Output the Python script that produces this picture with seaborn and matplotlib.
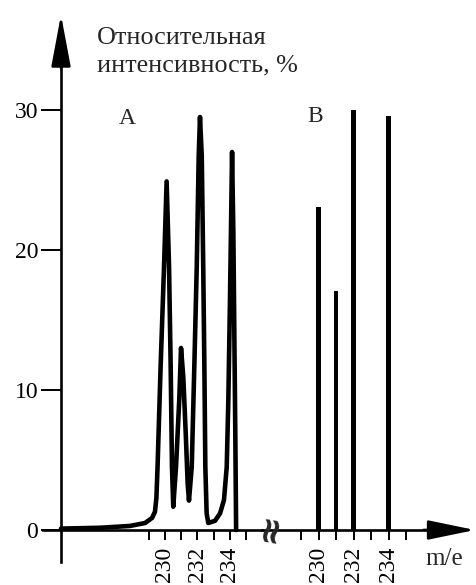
import matplotlib
matplotlib.use("Agg")
import matplotlib.pyplot as plt
import seaborn as sns

# spectrum A: points
curve_me = [223.58, 225.99, 227.84, 228.77, 229.20, 229.38, 229.47, 229.54,
            229.73, 229.94, 230.10, 230.25, 230.35, 230.43, 230.51, 230.68,
            230.88, 230.99, 231.13, 231.28, 231.40, 231.48, 231.65, 231.81,
            231.96, 232.08, 232.16, 232.27, 232.36, 232.43, 232.49, 232.57,
            232.67, 233.09, 233.40, 233.64, 233.81, 233.91, 234.01, 234.07,
            234.14, 234.22, 234.28, 234.34, 234.39]
curve_int = [0.10, 0.16, 0.29, 0.50, 0.86, 1.30, 2.30, 4.5,
             11.7, 18.8, 24.9, 18.8, 11.7, 4.5, 1.66, 4.5,
             9.3, 13.0, 10.9, 6.9, 3.3, 2.1, 4.5, 11.7,
             18.8, 26.7, 29.5, 26.7, 18.8, 11.7, 4.5, 1.2,
             0.5, 0.66, 1.19, 2.14, 4.5, 9.3, 16.4, 21.2,
             27.0, 21.2, 14.0, 6.9, 0.0]

# spectrum B: line spectrum
bar_me = [230, 231, 232, 234]
bar_int = [23.1, 17.1, 30.0, 29.6]

tick_me = [229, 230, 231, 232, 233, 234, 235]
label_me = [230, 232, 234]
y_ticks = [0, 10, 20, 30]

sns.set_style("white")
plt.rcParams['font.family'] = ['Liberation Serif', 'DejaVu Serif']

W, H = 476, 585
fig = plt.figure(figsize=(W / 100, H / 100), dpi=100)
ax_a = fig.add_axes([61 / W, 0, 201 / W, 1])
ax_b = fig.add_axes([278 / W, 0, 198 / W, 1], sharey=ax_a)

sns.lineplot(x=curve_me, y=curve_int, sort=False, estimator=None, ax=ax_a,
             color='black', lw=3.3, solid_joinstyle='round', clip_on=False)
sns.barplot(x=bar_me, y=bar_int, native_scale=True, ax=ax_b, color='black',
            saturation=1, width=0.23, linewidth=0)

ax_a.set_ylim(-55 / 14, 530 / 14)
ax_a.set_xlim(230 - 104 / 16.2, 230 + 97 / 16.2)
ax_b.set_xlim(230 - 40.5 / 17.5, 239.0)

axis_lw = 1.9
for ax in (ax_a, ax_b):
    ax.patch.set_visible(False)
    ax.set_xlabel('')
    ax.set_ylabel('')
    for s in ('top', 'right'):
        ax.spines[s].set_visible(False)
    ax.spines['bottom'].set_position(('data', 0))
    ax.spines['bottom'].set_linewidth(axis_lw)
    ax.spines['bottom'].set_color('black')
    ax.set_xticks(tick_me)
    ax.set_xticklabels([str(t) if t in label_me else '' for t in tick_me])
    ax.tick_params(axis='x', bottom=True, direction='out', length=7.2, width=1.4,
                   pad=5, labelsize=17, labelrotation=90, colors='black')

ax_a.spines['left'].set_linewidth(axis_lw)
ax_a.spines['left'].set_color('black')
ax_a.spines['left'].set_bounds(-2.3, 34)
ax_a.spines['bottom'].set_bounds(222.47, 235.99)
ax_b.spines['left'].set_visible(False)
ax_b.spines['bottom'].set_bounds(226.77, 237.5)

ax_a.set_yticks(y_ticks)
ax_a.set_yticklabels([str(t) for t in y_ticks])
ax_a.tick_params(axis='y', left=True, direction='out', length=14.4, width=1.4,
                 pad=2, labelsize=17, colors='black')
ax_b.tick_params(axis='y', left=False, labelleft=False)

arrow = dict(arrowstyle='-|>,head_length=3.2,head_width=0.6', mutation_scale=10,
             color='black', lw=axis_lw, shrinkA=0, shrinkB=0)
ax_a.annotate('', xy=(0, 36.8), xytext=(0, 33), xycoords=('axes fraction', 'data'),
              textcoords=('axes fraction', 'data'), arrowprops=arrow,
              annotation_clip=False)
arrow_x = dict(arrow, arrowstyle='-|>,head_length=2.9,head_width=0.6')
ax_b.annotate('', xy=(238.94, 0), xytext=(236, 0), arrowprops=arrow_x,
              annotation_clip=False)

fig.text(97 / W, 1 - 27 / H, "Относительная\nинтенсивность, %", ha='left', va='top',
         fontsize=18.8, linespacing=1.33)
ax_a.text(227.65, 29.4, 'A', ha='center', va='center', fontsize=17)
ax_b.text(229.8, 29.5, 'B', ha='center', va='center', fontsize=17)
fig.text(425 / W, 1 - 565 / H, 'm/e', ha='left', va='baseline', fontsize=18)
# axis break mark
fig.text(270 / W, 1 - 528 / H, '≈', ha='center', va='center', fontsize=26,
         fontweight='bold', rotation=80, family='DejaVu Sans')

fig.savefig('out.png', dpi=100)
